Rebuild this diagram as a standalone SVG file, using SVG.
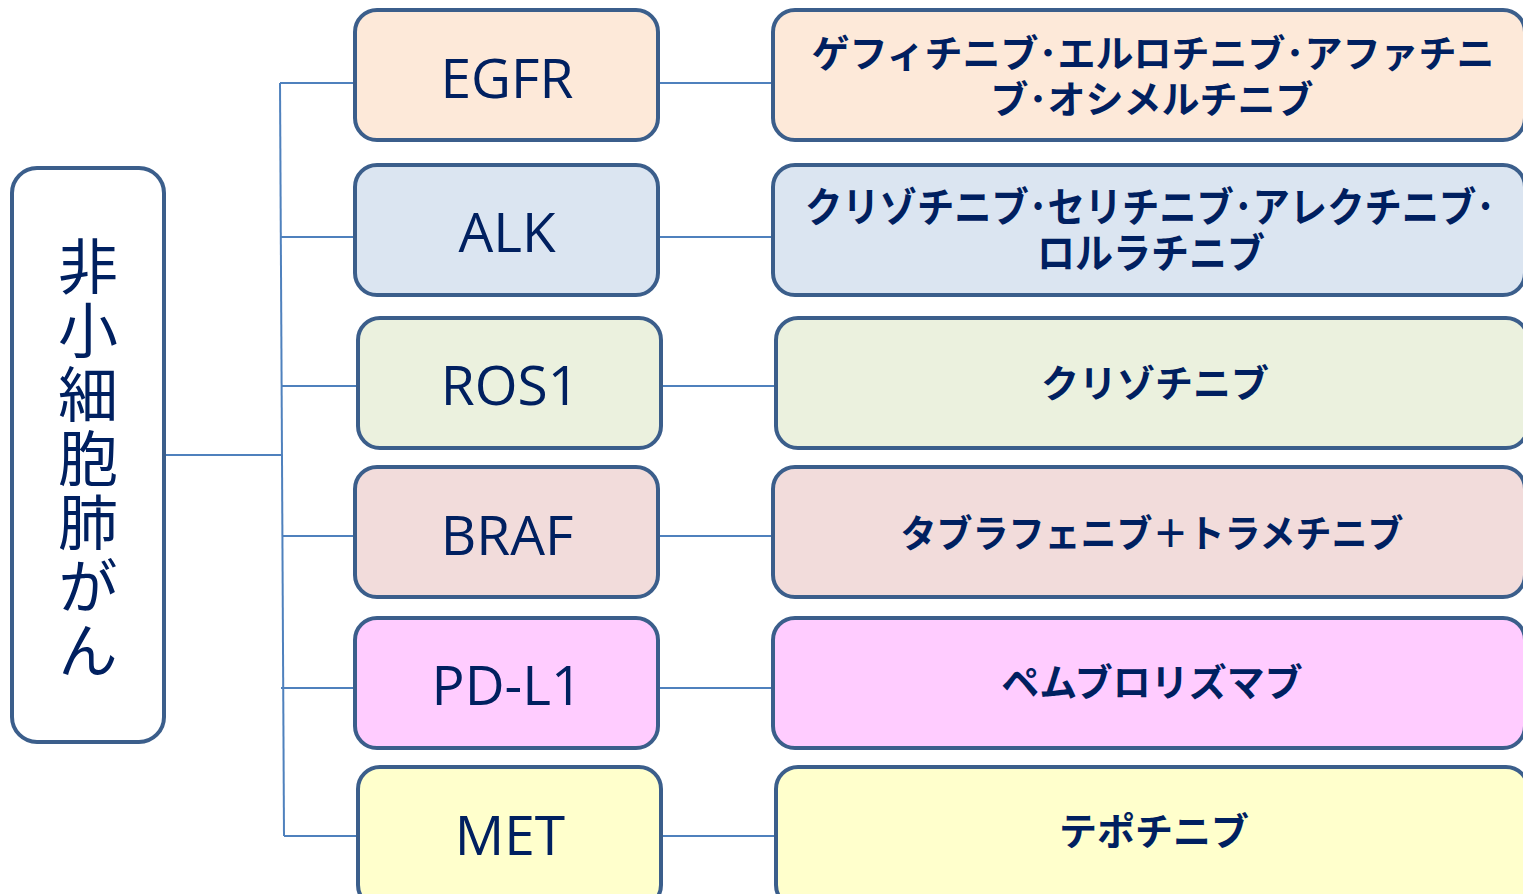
<svg xmlns="http://www.w3.org/2000/svg" width="1523" height="894" viewBox="0 0 1523 894">
<style>
.box{stroke:#3b5e8b;stroke-width:4}
.c{fill:none;stroke:#4f81bd;stroke-width:2}
.lat{font-family:"Open Sans","Noto Sans",sans-serif;font-size:55px;fill:#002060;text-anchor:middle}
.jp{font-family:"Noto Sans CJK JP",sans-serif;font-weight:bold;font-size:38px;fill:#002060;text-anchor:middle}
.root{font-family:"Noto Sans CJK JP",sans-serif;font-size:60px;fill:#002060}
.f1{fill:#fde9d9}.f2{fill:#dbe5f1}.f3{fill:#ebf1de}.f4{fill:#f2dcdb}.f5{fill:#ffccff}.f6{fill:#ffffcc}
</style>
<rect width="1523" height="894" fill="#ffffff"/>
<g id="connectors">
<polyline class="c" points="165,455 281,455"/>
<polyline class="c" points="280,83 284,836"/>
<line class="c" x1="280" y1="83" x2="355" y2="83"/>
<line class="c" x1="281" y1="237" x2="355" y2="237"/>
<line class="c" x1="282" y1="386" x2="358" y2="386"/>
<line class="c" x1="282" y1="536" x2="355" y2="536"/>
<line class="c" x1="281" y1="688" x2="355" y2="688"/>
<line class="c" x1="284" y1="836" x2="358" y2="836"/>
<line class="c" x1="658" y1="83" x2="773" y2="83"/>
<line class="c" x1="658" y1="237" x2="773" y2="237"/>
<line class="c" x1="661" y1="386" x2="776" y2="386"/>
<line class="c" x1="658" y1="536" x2="773" y2="536"/>
<line class="c" x1="658" y1="688" x2="773" y2="688"/>
<line class="c" x1="661" y1="836" x2="776" y2="836"/>
</g>
<g id="root">
<rect class="box" x="12" y="168" width="152" height="574" rx="25" fill="#ffffff"/>
<text class="root" x="88" y="236" writing-mode="vertical-rl" letter-spacing="4">非小細胞肺がん</text>
</g>
<g id="egfr">
<rect class="box f1" x="355" y="10" width="303" height="130" rx="22"/>
<text class="lat" x="507" y="98">EGFR</text>
</g>
<g id="alk">
<rect class="box f2" x="355" y="165" width="303" height="130" rx="22"/>
<text class="lat" x="507" y="252">ALK</text>
</g>
<g id="ros1">
<rect class="box f3" x="358" y="318" width="303" height="130" rx="22"/>
<text class="lat" x="510" y="405">ROS1</text>
</g>
<g id="braf">
<rect class="box f4" x="355" y="467" width="303" height="130" rx="22"/>
<text class="lat" x="507" y="555">BRAF</text>
</g>
<g id="pdl1">
<rect class="box f5" x="355" y="618" width="303" height="130" rx="22"/>
<text class="lat" x="507" y="705">PD-L1</text>
</g>
<g id="met">
<rect class="box f6" x="358" y="767" width="303" height="140" rx="22"/>
<text class="lat" x="510" y="855">MET</text>
</g>
<g id="egfr-drugs">
<rect class="box f1" x="773" y="10" width="752" height="130" rx="22"/>
<text class="jp"><tspan x="1153" y="67">ゲフィチニブ･エルロチニブ･アファチニ</tspan><tspan x="1152" y="113">ブ･オシメルチニブ</tspan></text>
</g>
<g id="alk-drugs">
<rect class="box f2" x="773" y="165" width="752" height="130" rx="22"/>
<text class="jp" x="1150" y="222" style="font-size:41px" textLength="690" lengthAdjust="spacingAndGlyphs">クリゾチニブ･セリチニブ･アレクチニブ･</text>
<text class="jp" x="1151" y="268" style="font-size:41px" textLength="228" lengthAdjust="spacingAndGlyphs">ロルラチニブ</text>
</g>
<g id="ros1-drugs">
<rect class="box f3" x="776" y="318" width="752" height="130" rx="22"/>
<text class="jp" x="1155" y="397">クリゾチニブ</text>
</g>
<g id="braf-drugs">
<rect class="box f4" x="773" y="467" width="752" height="130" rx="22"/>
<text class="jp" x="1152" y="547" textLength="503" lengthAdjust="spacingAndGlyphs">タブラフェニブ＋トラメチニブ</text>
</g>
<g id="pdl1-drugs">
<rect class="box f5" x="773" y="618" width="752" height="130" rx="22"/>
<text class="jp" x="1152" y="696">ペムブロリズマブ</text>
</g>
<g id="met-drugs">
<rect class="box f6" x="776" y="767" width="752" height="140" rx="22"/>
<text class="jp" x="1154" y="845">テポチニブ</text>
</g>
</svg>
